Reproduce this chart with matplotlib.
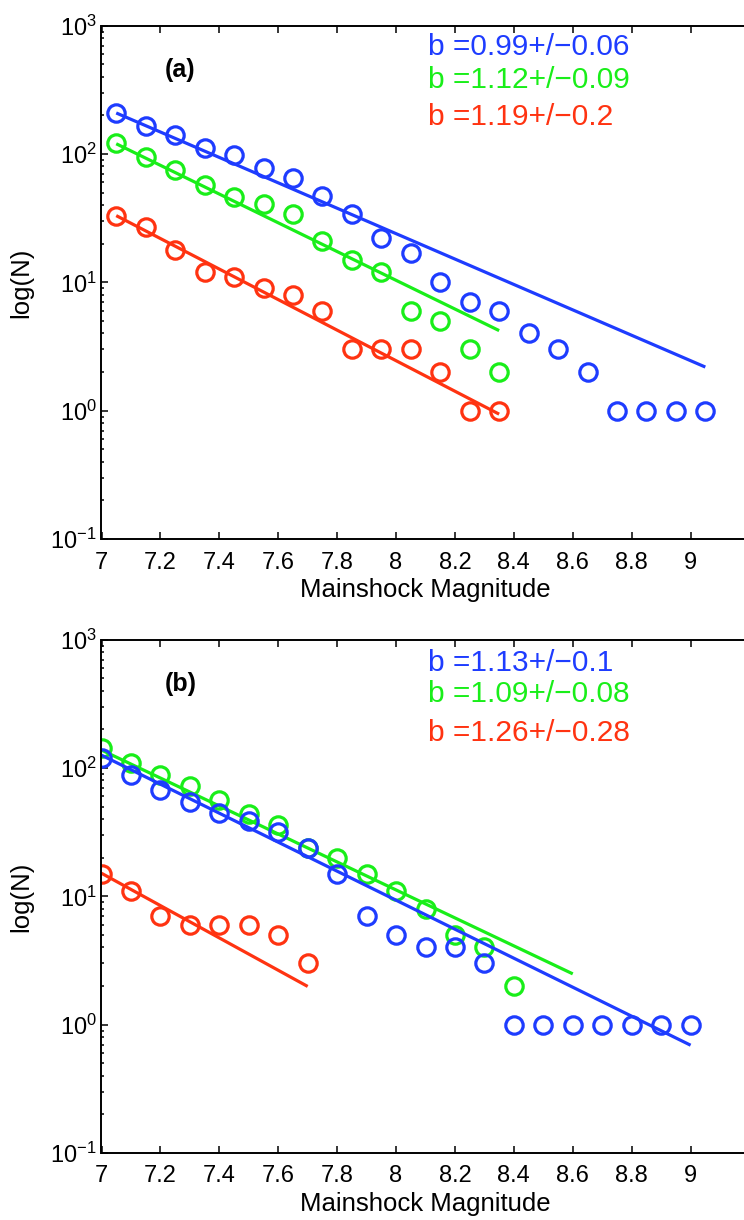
import numpy as np
import matplotlib.pyplot as plt
from matplotlib.ticker import FixedLocator, FuncFormatter, LogLocator

plt.rcParams['font.family'] = ['Liberation Sans', 'DejaVu Sans']
plt.rcParams['mathtext.fontset'] = 'custom'
plt.rcParams['mathtext.rm'] = 'Liberation Sans'

# colours
c_blue = '#1e3cff'
c_green = '#19ee19'
c_red = '#ff3311'

# panel (a)
mag_a_blue = [7.05, 7.15, 7.25, 7.35, 7.45, 7.55, 7.65, 7.75, 7.85, 7.95, 8.05,
              8.15, 8.25, 8.35, 8.45, 8.55, 8.65, 8.75, 8.85, 8.95, 9.05]
n_a_blue = [208, 166, 141, 111, 98, 78, 65, 47, 34, 22, 17, 10, 7, 6, 4, 3, 2, 1, 1, 1, 1]
mag_a_green = [7.05, 7.15, 7.25, 7.35, 7.45, 7.55, 7.65, 7.75, 7.85, 7.95, 8.05, 8.15, 8.25, 8.35]
n_a_green = [121, 94, 75, 57, 46, 41, 34, 21, 15, 12, 6, 5, 3, 2]
mag_a_red = [7.05, 7.15, 7.25, 7.35, 7.45, 7.55, 7.65, 7.75, 7.85, 7.95, 8.05, 8.15, 8.25, 8.35]
n_a_red = [33, 27, 18, 12, 11, 9, 8, 6, 3, 3, 3, 2, 1, 1]
b_a = [0.99, 1.12, 1.19]
err_a = ['0.06', '0.09', '0.2']
logn0_a = [2.32, 2.08, 1.52]      # fit value at first magnitude
fit_end_a = [9.05, 8.35, 8.35]

# panel (b)
mag_b_blue = [7.0, 7.1, 7.2, 7.3, 7.4, 7.5, 7.6, 7.7, 7.8, 7.9, 8.0,
              8.1, 8.2, 8.3, 8.4, 8.5, 8.6, 8.7, 8.8, 8.9, 9.0]
n_b_blue = [120, 88, 68, 54, 45, 39, 32, 24, 15, 7, 5, 4, 4, 3, 1, 1, 1, 1, 1, 1, 1]
mag_b_green = [7.0, 7.1, 7.2, 7.3, 7.4, 7.5, 7.6, 7.7, 7.8, 7.9, 8.0, 8.1, 8.2, 8.3, 8.4]
n_b_green = [142, 109, 89, 72, 56, 44, 36, 24, 20, 15, 11, 8, 5, 4, 2]
mag_b_red = [7.0, 7.1, 7.2, 7.3, 7.4, 7.5, 7.6, 7.7]
n_b_red = [15, 11, 7, 6, 6, 6, 5, 3]
b_b = [1.13, 1.09, 1.26]
err_b = ['0.1', '0.08', '0.28']
logn0_b = [2.10, 2.14, 1.18]
fit_end_b = [9.0, 8.6, 7.7]

xticks = [7, 7.2, 7.4, 7.6, 7.8, 8, 8.2, 8.4, 8.6, 8.8, 9]

fig = plt.figure(figsize=(7.44, 12.2), dpi=100)
W, H = 744.0, 1220.0
ax_a = fig.add_axes([101.5 / W, 1 - 539 / H, 648 / W, 513.3 / H])
ax_b = fig.add_axes([101.5 / W, 1 - 1153 / H, 648 / W, 513.3 / H])

panels = [
    (ax_a, '(a)', [(mag_a_blue, n_a_blue), (mag_a_green, n_a_green), (mag_a_red, n_a_red)],
     b_a, err_a, logn0_a, fit_end_a, [0.958, 0.894, 0.822]),
    (ax_b, '(b)', [(mag_b_blue, n_b_blue), (mag_b_green, n_b_green), (mag_b_red, n_b_red)],
     b_b, err_b, logn0_b, fit_end_b, [0.955, 0.894, 0.818]),
]
colors = [c_blue, c_green, c_red]

for ax, tag, series, bs, errs, l0s, ends, ty in panels:
    # red first, blue last so blue sits on top
    for i in [2, 1, 0]:
        mag, n = series[i]
        fx = np.array([mag[0], ends[i]])
        fy = 10 ** (l0s[i] - bs[i] * (fx - mag[0]))
        ax.plot(fx, fy, '-', color=colors[i], lw=2.3, solid_capstyle='butt')
        ax.plot(mag, n, 'o', mfc='none', mec=colors[i], ms=12.5, mew=2.3)
    for i in range(3):
        ax.text(0.504, ty[i], 'b =%.2f+/\u2212%s' % (bs[i], errs[i]), color=colors[i],
                fontsize=21.5, transform=ax.transAxes, va='center', ha='left')
    ax.text(0.122, 0.914, tag, fontsize=18, fontweight='bold', transform=ax.transAxes,
            va='center', ha='center')

    ax.set_yscale('log')
    ax.set_ylim(0.1, 1000)
    ax.set_xlim(7, 9.2)
    ax.xaxis.set_major_locator(FixedLocator(xticks))
    ax.xaxis.set_major_formatter(FuncFormatter(lambda v, p: '%g' % v))
    ax.yaxis.set_major_locator(LogLocator(base=10, numticks=10))
    ax.yaxis.set_minor_locator(LogLocator(base=10, subs=np.arange(2, 10), numticks=10))
    ax.tick_params(which='both', direction='in', top=True, right=False, labelsize=17, width=1.1)
    ax.tick_params(which='major', length=5)
    ax.tick_params(which='minor', length=2.5)
    ax.tick_params(axis='x', pad=9)
    for s in ax.spines.values():
        s.set_linewidth(1.4)
    ax.set_xlabel('Mainshock Magnitude', fontsize=18.5, labelpad=3)
    ax.set_ylabel('log(N)', fontsize=18.5, labelpad=12)

fig.savefig('out.png', dpi=100)
